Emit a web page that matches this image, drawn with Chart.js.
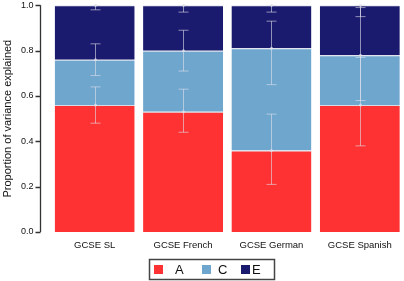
<!DOCTYPE html>
<html>
<head>
<meta charset="utf-8">
<script src="https://cdn.jsdelivr.net/npm/chart.js@4.4.1/dist/chart.umd.min.js"></script>
<style>
  html, body { margin: 0; padding: 0; background: #fff; }
  #wrap { width: 404px; height: 281px; position: relative; }
</style>
</head>
<body>
<div id="wrap"><canvas id="varianceChart" width="404" height="281"></canvas></div>
<script>
// Chart values
const categories = ['GCSE SL', 'GCSE French', 'GCSE German', 'GCSE Spanish'];
const seriesA = [0.56, 0.53, 0.36, 0.56];
const seriesC = [0.20, 0.27, 0.45, 0.22];
const seriesE = [0.24, 0.20, 0.19, 0.22];

// error bar limits, on the cumulative scale
const aLow  = [0.48, 0.44, 0.21, 0.38];
const aHigh = [0.64, 0.63, 0.52, 0.77];
const cLow  = [0.69, 0.71, 0.65, 0.58];
const cHigh = [0.83, 0.89, 0.93, 0.99];
const eLow  = [0.98, 0.97, 0.97, 0.95];
const eHigh = [1.00, 1.00, 1.00, 1.00];

const yTicks = [0, 0.2, 0.4, 0.6, 0.8, 1.0];

const colors = { A: '#FE3232', C: '#6EA6CE', E: '#1A1A6E' };
const errLimits = [[aLow, aHigh], [cLow, cHigh], [eLow, eHigh]];
const FONT = '"Liberation Sans", Arial, sans-serif';

// draws the detached y axis line, error bars and the boxed legend
const extrasPlugin = {
    id: 'extras',
    afterDatasetsDraw(chart) {
        const ctx = chart.ctx;
        const y = chart.scales.y;
        ctx.save();
        ctx.strokeStyle = 'rgba(225,225,235,0.6)';
        ctx.fillStyle = 'rgba(225,225,235,0.7)';
        ctx.lineWidth = 1;
        chart.data.datasets.forEach(function(ds, i) {
            const meta = chart.getDatasetMeta(i);
            const low = errLimits[i][0];
            const high = errLimits[i][1];
            meta.data.forEach(function(bar, j) {
                const x = Math.round(bar.x) + 0.5;
                const yl = y.getPixelForValue(low[j]);
                const yh = y.getPixelForValue(high[j]);
                ctx.beginPath();
                ctx.moveTo(x, yl); ctx.lineTo(x, yh);
                ctx.moveTo(x - 5, yl); ctx.lineTo(x + 5, yl);
                ctx.moveTo(x - 5, yh); ctx.lineTo(x + 5, yh);
                ctx.stroke();
                ctx.beginPath();
                ctx.arc(x, bar.y, 1.5, 0, Math.PI * 2);
                ctx.fill();
            });
        });
        ctx.restore();
    },
    afterDraw(chart) {
        const ctx = chart.ctx;
        const y = chart.scales.y;
        const ax = 40.5;
        ctx.save();
        ctx.strokeStyle = '#333';
        ctx.lineWidth = 1.3;
        ctx.beginPath();
        ctx.moveTo(ax, y.getPixelForValue(0));
        ctx.lineTo(ax, y.getPixelForValue(1));
        yTicks.forEach(function(t) {
            const py = Math.round(y.getPixelForValue(t)) + 0.5;
            ctx.moveTo(ax - 5, py);
            ctx.lineTo(ax, py);
        });
        ctx.stroke();

        // legend
        ctx.strokeStyle = '#444';
        ctx.lineWidth = 1.5;
        ctx.strokeRect(149.5, 259.5, 125, 20);
        const sq = [154, 202, 241];
        const tx = [175, 218, 252];
        ctx.font = '13px ' + FONT;
        ctx.textBaseline = 'middle';
        chart.data.datasets.forEach(function(ds, i) {
            ctx.fillStyle = ds.backgroundColor;
            ctx.fillRect(sq[i], 265, 9, 9);
            ctx.fillStyle = '#111';
            ctx.fillText(ds.label, tx[i], 270.5);
        });
        ctx.restore();
    }
};

function makeDataset(label, data, color) {
    return {
        label: label,
        data: data,
        backgroundColor: color,
        borderColor: 'rgba(205,210,225,0.8)',
        borderWidth: { top: 1, left: 0, right: 0, bottom: 0 },
        borderSkipped: false,
        barPercentage: 0.905,
        categoryPercentage: 1.0
    };
}

function initializeVarianceChart() {
    const ctx = document.getElementById('varianceChart').getContext('2d');
    new Chart(ctx, {
        type: 'bar',
        data: {
            labels: categories,
            datasets: [
                makeDataset('A', seriesA, colors.A),
                makeDataset('C', seriesC, colors.C),
                makeDataset('E', seriesE, colors.E)
            ]
        },
        options: {
            responsive: false,
            animation: false,
            layout: { padding: { top: 5.3, right: 0, bottom: 29, left: 0 } },
            plugins: {
                legend: { display: false },
                tooltip: { enabled: false }
            },
            scales: {
                x: {
                    stacked: true,
                    grid: { display: false, drawTicks: false },
                    border: { display: false },
                    afterFit: function(scale) {
                        scale.height = 20;
                        scale.paddingLeft = 0;
                        scale.paddingRight = 0;
                    },
                    ticks: {
                        color: '#111',
                        padding: 8,
                        maxRotation: 0,
                        font: { family: FONT, size: 9.5 }
                    }
                },
                y: {
                    stacked: true,
                    min: 0,
                    max: 1,
                    afterBuildTicks: function(scale) {
                        scale.ticks = yTicks.map(function(v) { return { value: v }; });
                    },
                    afterFit: function(scale) {
                        scale.width = 50.5;
                        scale.paddingTop = 0;
                        scale.paddingBottom = 0;
                    },
                    grid: { display: false, drawTicks: false },
                    border: { display: false },
                    ticks: {
                        color: '#111',
                        padding: 17,
                        callback: function(v) { return v.toFixed(1); },
                        font: { family: FONT, size: 9 }
                    },
                    title: {
                        display: true,
                        text: 'Proportion of variance explained',
                        color: '#111',
                        padding: { top: 1, bottom: 7 },
                        font: { family: FONT, size: 11 }
                    }
                }
            }
        },
        plugins: [extrasPlugin]
    });
}

document.addEventListener('DOMContentLoaded', initializeVarianceChart);
</script>
</body>
</html>
